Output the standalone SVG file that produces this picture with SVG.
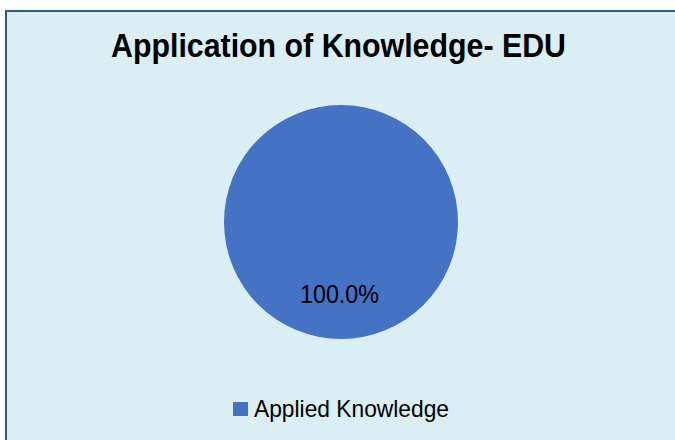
<svg xmlns="http://www.w3.org/2000/svg" width="675" height="440" viewBox="0 0 675 440">
<style>
.t{font-family:"Liberation Sans Narrow","Liberation Sans",Arial,sans-serif;fill:#000}
</style>
<rect x="0" y="0" width="675" height="440" fill="#ffffff"/>
<g id="frame"><rect x="6" y="11" width="680" height="440" fill="#DAEEF3" stroke="#2E5A8A" stroke-width="2"/></g>
<g id="title"><text class="t" x="111" y="57" font-size="33" font-weight="bold" textLength="455" lengthAdjust="spacingAndGlyphs">Application of Knowledge- EDU</text></g>
<g id="pie">
<circle cx="341" cy="222" r="117" fill="#4472C4"/>
<text class="t" x="300" y="303" font-size="25.5" textLength="79" lengthAdjust="spacingAndGlyphs">100.0%</text>
</g>
<g id="legend">
<rect x="233" y="402" width="15" height="14" fill="#4472C4"/>
<text class="t" x="254" y="417" font-size="24.5" textLength="195" lengthAdjust="spacingAndGlyphs">Applied Knowledge</text>
</g>
</svg>
